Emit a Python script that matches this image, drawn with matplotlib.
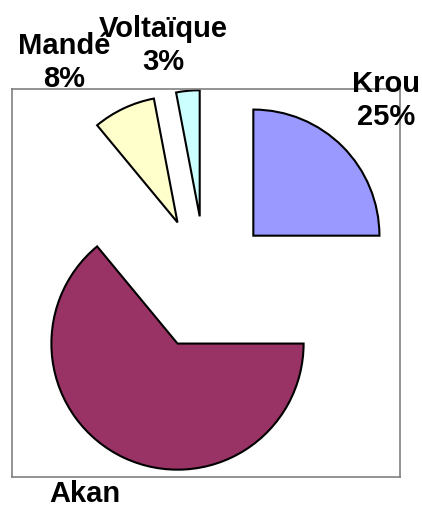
import matplotlib.pyplot as plt

# share of each group (%), clockwise from 12 o'clock
groups = ["Krou", "Akan", "Mandé", "Voltaïque"]
shares = [25, 64, 8, 3]
colours = ["#9999FF", "#993366", "#FFFFCC", "#CCFFFF"]
# the Akan percentage falls below the picture edge in the original
showPct = [True, False, True, True]

fig = plt.figure(figsize=(4.22, 5.10), dpi=100)
fig.patch.set_facecolor("white")

# axes = the grey plot-area box
ax = fig.add_axes([12/422, 32/510, 388/422, 388/510])

wedges, _ = ax.pie(shares, colors=colours, startangle=90, counterclock=False,
                   radius=0.65, explode=[0.345]*len(shares), center=(0, 0),
                   frame=True,
                   wedgeprops=dict(edgecolor="black", linewidth=1.5))
ax.set_aspect("equal")
ax.set_xlim(-1, 1)
ax.set_ylim(-1, 1)
ax.set_xticks([])
ax.set_yticks([])
for s in ax.spines.values():
    s.set_visible(True)
    s.set_color("#808080")
    s.set_linewidth(1.2)

# last-line baseline of each label
labelPos = [(0.93, 0.82), (-0.624, -1.124), (-0.732, 1.015), (-0.222, 1.103)]
for name, share, pct, (lx, ly) in zip(groups, shares, showPct, labelPos):
    txt = "%s\n%d%%" % (name, share) if pct else name
    ax.text(lx, ly, txt, ha="center", va="baseline",
            multialignment="center", fontsize=21, fontweight="bold",
            family="Liberation Sans", linespacing=1.23, clip_on=False)

fig.savefig("out.png", dpi=100)
